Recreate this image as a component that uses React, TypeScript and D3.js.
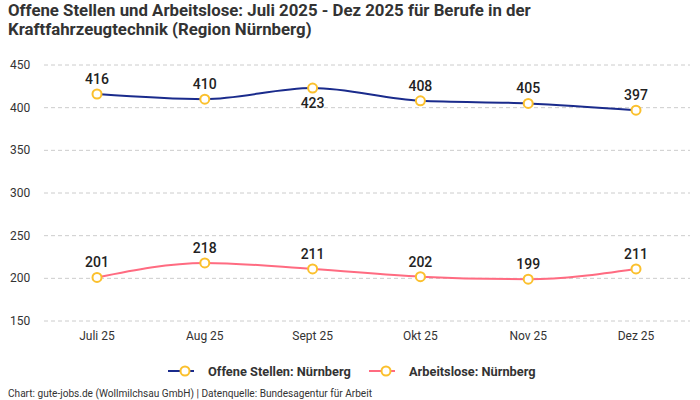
import React from 'react';
import * as d3 from 'd3';

const months = ['Juli 25', 'Aug 25', 'Sept 25', 'Okt 25', 'Nov 25', 'Dez 25'];
const offeneStellen = [416, 410, 423, 408, 405, 397];
const arbeitslose = [201, 218, 211, 202, 199, 211];
const yTicks = [150, 200, 250, 300, 350, 400, 450];
// labels drawn below the point instead of above
const belowLabels = ['Sept 25'];

const W = 700;
const H = 400;
const FONT = 'Roboto, "Noto Sans", sans-serif';

const App: React.FC = () => {
  const x = d3.scalePoint<string>().domain(months).range([97, 636]);
  const y = d3.scaleLinear().domain([150, 450]).range([321, 65]);

  const line = d3.line<number>()
    .x((_d, i) => x(months[i])!)
    .y(d => y(d))
    .curve(d3.curveMonotoneX);

  const series = [
    { name: 'Offene Stellen: Nürnberg', values: offeneStellen, color: '#1a2b8c' },
    { name: 'Arbeitslose: Nürnberg', values: arbeitslose, color: '#ff6b81' },
  ];

  return (
    <svg width={W} height={H} style={{ position: 'absolute', left: 0, top: 0 }} fontFamily={FONT}>
      <rect width={W} height={H} fill="#fff" />
      <text x={8} y={16} fontSize={16.8} fontWeight={700} fill="#333">
        Offene Stellen und Arbeitslose: Juli 2025 - Dez 2025 für Berufe in der
      </text>
      <text x={8} y={35} fontSize={16.8} fontWeight={700} fill="#333">
        Kraftfahrzeugtechnik (Region Nürnberg)
      </text>

      {yTicks.map(t => (
        <g key={t}>
          <line x1={44} x2={690} y1={y(t)} y2={y(t)} stroke="#ccc" strokeDasharray="4,3" />
          <text x={10} y={y(t) + 4} fontSize={12} fill="#333">{t}</text>
        </g>
      ))}

      {months.map(m => (
        <text key={m} x={x(m)} y={340} fontSize={12} fill="#333" textAnchor="middle">{m}</text>
      ))}

      {series.map(s => (
        <g key={s.name}>
          <path d={line(s.values)!} fill="none" stroke={s.color} strokeWidth={2} />
          {s.values.map((v, i) => (
            <g key={i}>
              <circle cx={x(months[i])} cy={y(v)} r={4.5} fill="#fff" stroke="#fbc02d" strokeWidth={2} />
              <text
                x={x(months[i])}
                y={belowLabels.includes(months[i]) && s.values === offeneStellen ? y(v) + 20 : y(v) - 10}
                fontSize={14}
                fontWeight={500}
                fill="#222"
                textAnchor="middle"
              >{v}</text>
            </g>
          ))}
        </g>
      ))}

      {series.map((s, i) => {
        const lx = i === 0 ? 168 : 369;
        return (
          <g key={s.name} transform={`translate(${lx},371)`}>
            <line x1={0} x2={26} y1={0} y2={0} stroke={s.color} strokeWidth={2} />
            <circle cx={17} cy={0} r={4.5} fill="#fff" stroke="#fbc02d" strokeWidth={2} />
            <text x={40} y={5} fontSize={12.8} fontWeight={700} fill="#333">{s.name}</text>
          </g>
        );
      })}

      <text x={8} y={397} fontSize={10.1} fill="#333">
        Chart: gute-jobs.de (Wollmilchsau GmbH) | Datenquelle: Bundesagentur für Arbeit
      </text>
    </svg>
  );
};

export default App;
